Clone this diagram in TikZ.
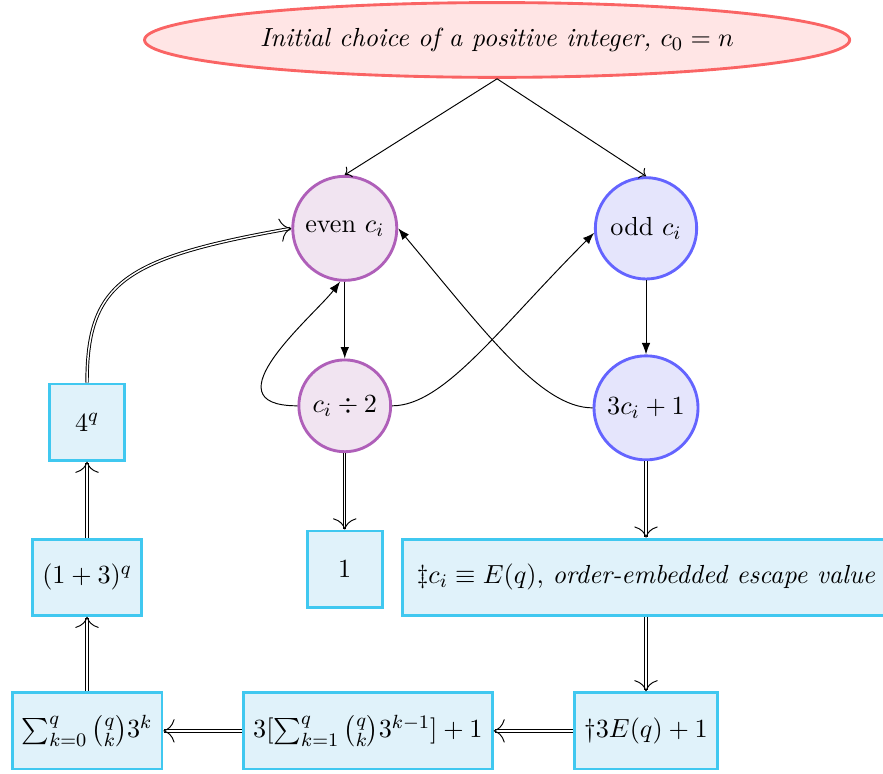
\documentclass[tikz,border=0pt,11pt]{standalone}
\usepackage{amsmath,amssymb}
\usepackage{xcolor}
\usetikzlibrary{arrows.meta,positioning,calc,shapes.geometric}
\definecolor{startline}{RGB}{250,100,100}
\definecolor{startfill}{RGB}{255,229,229}
\definecolor{evenline}{RGB}{175,95,185}
\definecolor{evenfill}{RGB}{241,228,241}
\definecolor{oddline}{RGB}{100,100,255}
\definecolor{oddfill}{RGB}{229,229,252}
\definecolor{boxline}{RGB}{64,200,240}
\definecolor{boxfill}{RGB}{224,242,250}

\begin{document}
\begin{tikzpicture}[x=1cm,y=1cm,
    startstate/.style={ellipse,draw=startline,fill=startfill,very thick,minimum width=10.37cm,minimum height=1.1cm},
    evenstate/.style={circle,draw=evenline,fill=evenfill,very thick,inner sep=1pt},
    oddstate/.style={circle,draw=oddline,fill=oddfill,very thick,inner sep=1pt},
    valbox/.style={rectangle,draw=boxline,fill=boxfill,very thick,inner xsep=4pt,minimum width=1.1cm,minimum height=1.12cm},
    dbl/.style={double,->},
    step arrow/.style={-Latex}]
    \useasboundingbox (0,0) rectangle (12.985,11.368);

    % start of the sequence
    \node[startstate] (start) at (7.31,10.78) {\itshape Initial choice of a positive integer, $c_0=n$};

    % parity states
    \node[evenstate,minimum size=1.53cm] (even) at (5.07,8.01) {even $c_i$};
    \node[oddstate,minimum size=1.49cm] (odd) at (9.50,8.01) {odd $c_i$};
    \node[evenstate,minimum size=1.35cm] (half) at (5.07,5.40) {$c_i\div 2$};
    \node[oddstate,minimum size=1.53cm] (triple) at (9.50,5.37) {$3c_i+1$};

    % value boxes
    \node[valbox] (one) at (5.07,3.0) {$1$};
    \node[valbox,minimum width=7.15cm] (escape) at (9.50,2.88) {$\ddagger c_i\equiv E(q)$, \textit{order-embedded escape value}};
    \node[valbox] (dagger) at (9.50,0.62) {$\dagger 3E(q)+1$};
    \node[valbox] (inner) at (5.41,0.62) {$3[\sum_{k=1}^{q}\binom{q}{k}3^{k-1}]+1$};
    \node[valbox] (binsum) at (1.28,0.62) {$\sum_{k=0}^{q}\binom{q}{k}3^{k}$};
    \node[valbox] (power) at (1.28,2.88) {$(1+3)^q$};
    \node[valbox] (four) at (1.28,5.16) {$4^q$};

    % from the start
    \draw[->] (start.south) -- (even.north);
    \draw[->] (start.south) -- (odd.north);

    % Collatz steps
    \draw[step arrow] (even) -- (half);
    \draw[step arrow] (odd) -- (triple);
    \draw[step arrow] (half.west) to[out=180,in=233,out looseness=1.8,in looseness=0.8] (even.265);
    \draw[step arrow] (half.east) to[out=0,in=225,out looseness=0.5,in looseness=1.3] (odd.185);
    \draw[step arrow] (triple.west) to[out=180,in=-50,out looseness=0.5,in looseness=1.3] (even.east);

    % escape chain
    \draw[dbl] (half) -- (one);
    \draw[dbl] (triple) -- (escape);
    \draw[dbl] (escape) -- (dagger);
    \draw[dbl] (dagger) -- (inner);
    \draw[dbl] (inner) -- (binsum);
    \draw[dbl] (binsum) -- (power);
    \draw[dbl] (power) -- (four);
    \draw[dbl] (four.north) to[out=90,in=190,out looseness=1,in looseness=1.7] (even.west);
\end{tikzpicture}
\end{document}
